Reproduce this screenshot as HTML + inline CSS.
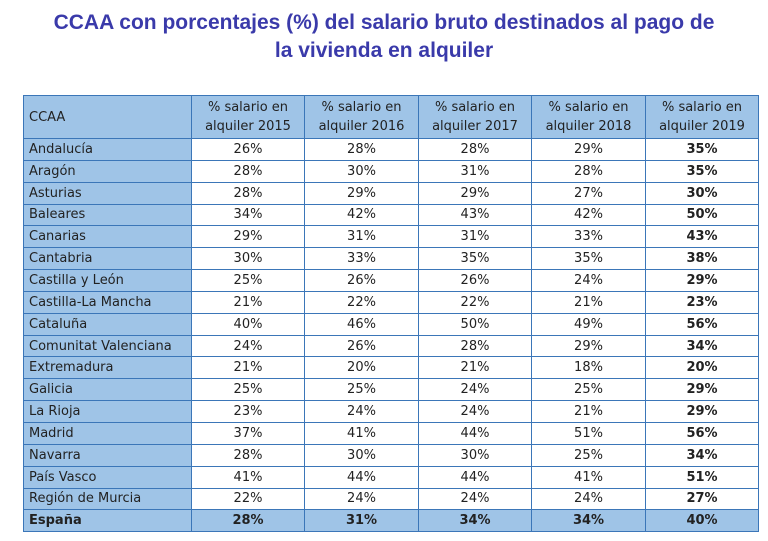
<!DOCTYPE html>
<html><head><meta charset="utf-8"><style>
body{margin:0;width:768px;height:541px;background:#fff;font-family:"Liberation Sans",sans-serif;overflow:hidden}
h1{position:absolute;left:0;top:9px;width:768px;margin:0;text-align:center;font-size:21px;line-height:28px;color:#3a3aaa;font-weight:bold}
table{position:absolute;left:23px;top:95px;border-collapse:collapse;font-family:"DejaVu Sans","Liberation Sans",sans-serif;font-size:13px;color:#222}
td{border:1.5px solid #3b76b8;height:20.85px;padding:0;text-align:center;background:#fff}
td:first-child{background:#9fc4e7;text-align:left;padding-left:5px;width:162px}
tr.h td{background:#9fc4e7;height:42px;line-height:19px}
td.b{font-weight:bold}
tr.e td{background:#9fc4e7;font-weight:bold}
</style></head><body>
<h1>CCAA con porcentajes (%) del salario bruto destinados al pago de<br>la vivienda en alquiler</h1>
<table>
<colgroup><col style="width:167px"><col style="width:113px"><col style="width:114px"><col style="width:113px"><col style="width:114px"><col style="width:113px"></colgroup>
<tr class="h"><td>CCAA</td><td>% salario en<br>alquiler 2015</td><td>% salario en<br>alquiler 2016</td><td>% salario en<br>alquiler 2017</td><td>% salario en<br>alquiler 2018</td><td>% salario en<br>alquiler 2019</td></tr>
<tr><td>Andalucía</td><td>26%</td><td>28%</td><td>28%</td><td>29%</td><td class="b">35%</td></tr>
<tr><td>Aragón</td><td>28%</td><td>30%</td><td>31%</td><td>28%</td><td class="b">35%</td></tr>
<tr><td>Asturias</td><td>28%</td><td>29%</td><td>29%</td><td>27%</td><td class="b">30%</td></tr>
<tr><td>Baleares</td><td>34%</td><td>42%</td><td>43%</td><td>42%</td><td class="b">50%</td></tr>
<tr><td>Canarias</td><td>29%</td><td>31%</td><td>31%</td><td>33%</td><td class="b">43%</td></tr>
<tr><td>Cantabria</td><td>30%</td><td>33%</td><td>35%</td><td>35%</td><td class="b">38%</td></tr>
<tr><td>Castilla y León</td><td>25%</td><td>26%</td><td>26%</td><td>24%</td><td class="b">29%</td></tr>
<tr><td>Castilla-La Mancha</td><td>21%</td><td>22%</td><td>22%</td><td>21%</td><td class="b">23%</td></tr>
<tr><td>Cataluña</td><td>40%</td><td>46%</td><td>50%</td><td>49%</td><td class="b">56%</td></tr>
<tr><td>Comunitat Valenciana</td><td>24%</td><td>26%</td><td>28%</td><td>29%</td><td class="b">34%</td></tr>
<tr><td>Extremadura</td><td>21%</td><td>20%</td><td>21%</td><td>18%</td><td class="b">20%</td></tr>
<tr><td>Galicia</td><td>25%</td><td>25%</td><td>24%</td><td>25%</td><td class="b">29%</td></tr>
<tr><td>La Rioja</td><td>23%</td><td>24%</td><td>24%</td><td>21%</td><td class="b">29%</td></tr>
<tr><td>Madrid</td><td>37%</td><td>41%</td><td>44%</td><td>51%</td><td class="b">56%</td></tr>
<tr><td>Navarra</td><td>28%</td><td>30%</td><td>30%</td><td>25%</td><td class="b">34%</td></tr>
<tr><td>País Vasco</td><td>41%</td><td>44%</td><td>44%</td><td>41%</td><td class="b">51%</td></tr>
<tr><td>Región de Murcia</td><td>22%</td><td>24%</td><td>24%</td><td>24%</td><td class="b">27%</td></tr>
<tr class="e"><td>España</td><td>28%</td><td>31%</td><td>34%</td><td>34%</td><td>40%</td></tr>
</table>
</body></html>
